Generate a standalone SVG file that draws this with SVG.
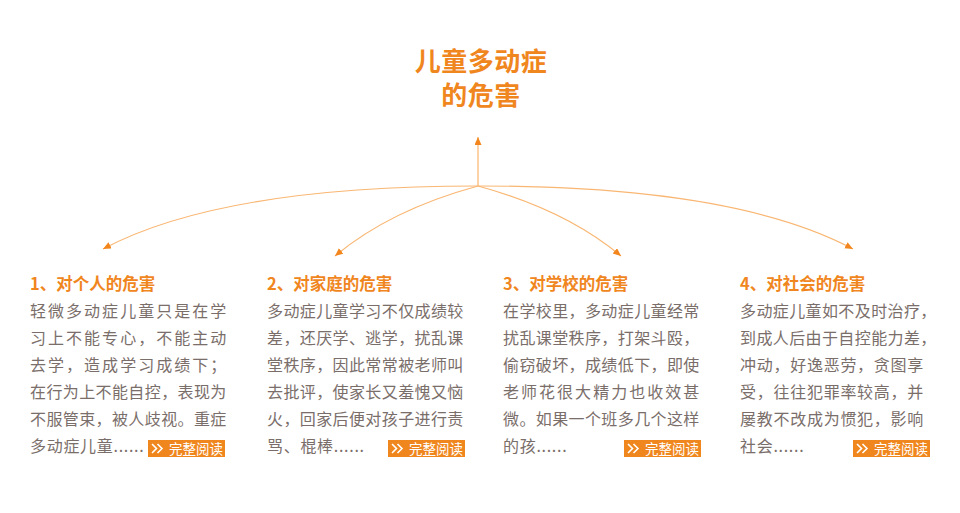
<svg xmlns="http://www.w3.org/2000/svg" width="960" height="513" viewBox="0 0 960 513">
<defs>
<marker id="ah" markerUnits="userSpaceOnUse" markerWidth="9" markerHeight="8" refX="8" refY="3.5" orient="auto">
<path d="M0,0 L8,3.5 L0,7 z" fill="#f2861c"/>
</marker>
<style>
.title{font-family:"Noto Sans CJK SC","Noto Sans",sans-serif;font-size:26px;font-weight:bold;fill:#f0861e;letter-spacing:0.5px}
.head{font-family:"Noto Sans CJK SC","Noto Sans",sans-serif;font-size:16.5px;font-weight:bold;fill:#f0861e}
.body{font-family:"Noto Sans CJK SC","Noto Sans",sans-serif;font-size:16px;fill:#7a6e6a;letter-spacing:0.7px}
.btn{fill:#f0861e}
.btnt{font-family:"Noto Sans CJK SC","Noto Sans",sans-serif;font-size:13.5px;fill:#ffffff}
.chev{fill:none;stroke:#ffffff;stroke-width:1.6}
.conn{fill:none;stroke:#f9b672;stroke-width:1.2}
</style>
</defs>
<rect width="960" height="513" fill="#ffffff"/>
<g id="title">
<text class="title" x="481" y="71" text-anchor="middle">儿童多动症</text>
<text class="title" x="481" y="105" text-anchor="middle">的危害</text>
</g>
<g id="connectors">
<line x1="478" y1="186" x2="478" y2="137" stroke="#fcd2a6" stroke-width="2" marker-end="url(#ah)"/>
<path class="conn" d="M478,186 C300,186 180,208 103,249" marker-end="url(#ah)"/>
<path class="conn" d="M478,186 Q390,210 335,256" marker-end="url(#ah)"/>
<path class="conn" d="M478,186 Q566,210 621,256" marker-end="url(#ah)"/>
<path class="conn" d="M478,186 C656,186 776,208 853,249" marker-end="url(#ah)"/>
</g>
<g id="node1">
<text class="head" x="30" y="290">1、对个人的危害</text>
<text class="body" x="30" y="317" textLength="197" lengthAdjust="spacing">轻微多动症儿童只是在学</text>
<text class="body" x="30" y="344" textLength="197" lengthAdjust="spacing">习上不能专心，不能主动</text>
<text class="body" x="30" y="371" textLength="197" lengthAdjust="spacing">去学，造成学习成绩下；</text>
<text class="body" x="30" y="398" textLength="197" lengthAdjust="spacing">在行为上不能自控，表现为</text>
<text class="body" x="30" y="425" textLength="197" lengthAdjust="spacing">不服管束，被人歧视。重症</text>
<text class="body" x="30" y="452">多动症儿童......</text>
<rect class="btn" x="148" y="440" width="77" height="17"/>
<path class="chev" d="M152,444 L156.5,448.5 L152,453 M157.5,444 L162,448.5 L157.5,453"/>
<text class="btnt" x="169" y="453.5">完整阅读</text>
</g>
<g id="node2">
<text class="head" x="267" y="290">2、对家庭的危害</text>
<text class="body" x="267" y="317" textLength="197" lengthAdjust="spacing">多动症儿童学习不仅成绩较</text>
<text class="body" x="267" y="344" textLength="197" lengthAdjust="spacing">差，还厌学、逃学，扰乱课</text>
<text class="body" x="267" y="371" textLength="197" lengthAdjust="spacing">堂秩序，因此常常被老师叫</text>
<text class="body" x="267" y="398" textLength="197" lengthAdjust="spacing">去批评，使家长又羞愧又恼</text>
<text class="body" x="267" y="425" textLength="197" lengthAdjust="spacing">火，回家后便对孩子进行责</text>
<text class="body" x="267" y="452">骂、棍棒......</text>
<rect class="btn" x="388" y="440" width="77" height="17"/>
<path class="chev" d="M392,444 L396.5,448.5 L392,453 M397.5,444 L402,448.5 L397.5,453"/>
<text class="btnt" x="409" y="453.5">完整阅读</text>
</g>
<g id="node3">
<text class="head" x="503" y="290">3、对学校的危害</text>
<text class="body" x="503" y="317" textLength="197" lengthAdjust="spacing">在学校里，多动症儿童经常</text>
<text class="body" x="503" y="344" textLength="197" lengthAdjust="spacing">扰乱课堂秩序，打架斗殴，</text>
<text class="body" x="503" y="371" textLength="197" lengthAdjust="spacing">偷窃破坏，成绩低下，即使</text>
<text class="body" x="503" y="398" textLength="197" lengthAdjust="spacing">老师花很大精力也收效甚</text>
<text class="body" x="503" y="425" textLength="197" lengthAdjust="spacing">微。如果一个班多几个这样</text>
<text class="body" x="503" y="452">的孩......</text>
<rect class="btn" x="624" y="440" width="77" height="17"/>
<path class="chev" d="M628,444 L632.5,448.5 L628,453 M633.5,444 L638,448.5 L633.5,453"/>
<text class="btnt" x="645" y="453.5">完整阅读</text>
</g>
<g id="node4">
<text class="head" x="740" y="290">4、对社会的危害</text>
<text class="body" x="740" y="317" textLength="197" lengthAdjust="spacing">多动症儿童如不及时治疗，</text>
<text class="body" x="740" y="344" textLength="197" lengthAdjust="spacing">到成人后由于自控能力差，</text>
<text class="body" x="740" y="371" textLength="184" lengthAdjust="spacing">冲动，好逸恶劳，贪图享</text>
<text class="body" x="740" y="398" textLength="184" lengthAdjust="spacing">受，往往犯罪率较高，并</text>
<text class="body" x="740" y="425" textLength="184" lengthAdjust="spacing">屡教不改成为惯犯，影响</text>
<text class="body" x="740" y="452">社会......</text>
<rect class="btn" x="853" y="440" width="77" height="17"/>
<path class="chev" d="M857,444 L861.5,448.5 L857,453 M862.5,444 L867,448.5 L862.5,453"/>
<text class="btnt" x="874" y="453.5">完整阅读</text>
</g>
</svg>
